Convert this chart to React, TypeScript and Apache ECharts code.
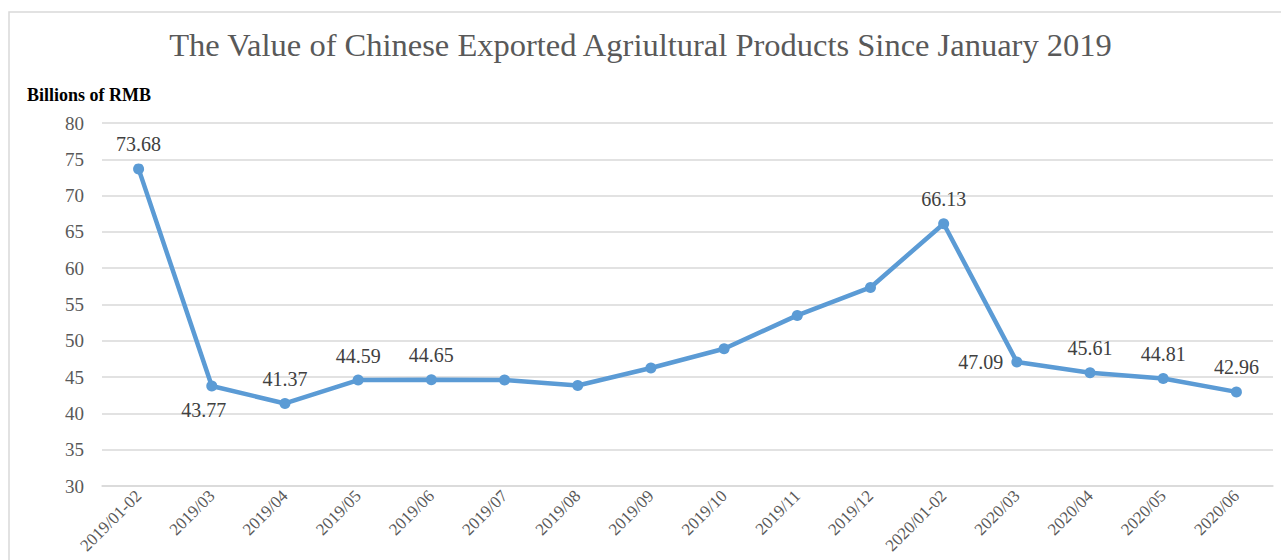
import React, { useEffect, useRef } from "react";
import * as echarts from "echarts";

const categories = [
  "2019/01-02", "2019/03", "2019/04", "2019/05", "2019/06", "2019/07", "2019/08", "2019/09",
  "2019/10", "2019/11", "2019/12", "2020/01-02", "2020/03", "2020/04", "2020/05", "2020/06",
];
const values = [73.68, 43.77, 41.37, 44.59, 44.65, 44.6, 43.85, 46.25, 48.9, 53.5, 57.35, 66.13, 47.09, 45.61, 44.81, 42.96];
// which points show a value label, and where
const labelPositions: (string | null)[] = [
  "top", "bottom", "top", "top", "top", null, null, null, null, null, null, "top", "left", "top", "top", "top",
];

const FONT = "Liberation Serif";

export default function App() {
  const ref = useRef<HTMLDivElement>(null);
  useEffect(() => {
    const chart = echarts.init(ref.current!, undefined, { renderer: "svg" });
    chart.setOption({
      animation: false,
      backgroundColor: "#ffffff",
      textStyle: { fontFamily: FONT },
      title: {
        text: "The Value of Chinese Exported Agriultural Products Since January 2019",
        left: "center",
        top: 23,
        textStyle: { fontFamily: FONT, fontSize: 32.5, fontWeight: "normal", color: "#595959" },
      },
      graphic: [
        {
          type: "rect",
          shape: { x: 9, y: 12, width: 1400, height: 700 },
          style: { fill: "none", stroke: "#d9d9d9", lineWidth: 1.5 },
          silent: true,
        },
        {
          type: "text",
          left: 27,
          top: 86,
          style: { text: "Billions of RMB", font: `bold 18px ${FONT}`, fill: "#000000" },
        },
      ],
      grid: { left: 102, right: 8, top: 123, bottom: 74, outerBoundsMode: "none", containLabel: false },
      xAxis: {
        type: "category",
        data: categories,
        boundaryGap: true,
        axisLine: { lineStyle: { color: "#d9d9d9", width: 1.5 } },
        axisTick: { show: false },
        axisLabel: { rotate: 45, margin: 7, interval: 0, fontFamily: FONT, fontSize: 17, color: "#595959" },
      },
      yAxis: {
        type: "value",
        min: 30,
        max: 80,
        interval: 5,
        axisLine: { show: false },
        axisTick: { show: false },
        axisLabel: { margin: 18, fontFamily: FONT, fontSize: 19, color: "#595959" },
        splitLine: { lineStyle: { color: "#d9d9d9", width: 1.5 } },
      },
      series: [
        {
          type: "line",
          data: values.map((v, i) => ({
            value: v,
            label: labelPositions[i]
              ? {
                  show: true,
                  position: labelPositions[i],
                  distance: labelPositions[i] === "top" ? 9 : 8,
                  offset: labelPositions[i] === "bottom" ? [-8, 0] : [0, 0],
                }
              : { show: false },
          })),
          lineStyle: { color: "#5b9bd5", width: 4.5 },
          itemStyle: { color: "#5b9bd5" },
          symbol: "circle",
          symbolSize: 11,
          label: { fontFamily: FONT, fontSize: 20, color: "#404040", formatter: (p: any) => p.value.toFixed(2) },
        },
      ],
    });
    return () => chart.dispose();
  }, []);
  return <div ref={ref} style={{ position: "absolute", left: 0, top: 0, width: 1281, height: 560 }} />;
}
